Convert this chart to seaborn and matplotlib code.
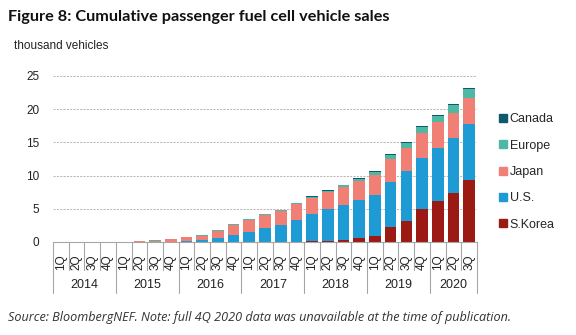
import numpy as np
import pandas as pd
import matplotlib
matplotlib.use("Agg")
import matplotlib.pyplot as plt
import matplotlib.transforms as mtransforms
from matplotlib.lines import Line2D
import seaborn as sns

# ---- data (thousand vehicles, cumulative) ----
years = ["2014", "2015", "2016", "2017", "2018", "2019", "2020"]
quarters = ["1Q", "2Q", "3Q", "4Q"] * 6 + ["1Q", "2Q", "3Q"]
year_of_bar = [y for y in years[:-1] for _ in range(4)] + ["2020"] * 3

s_korea = [0, 0, 0, 0, 0, 0, 0, 0, 0, 0.02, 0.03, 0.03, 0.03, 0.04, 0.05, 0.06,
           0.1, 0.2, 0.35, 0.6, 0.95, 2.2, 3.2, 4.9, 6.1, 7.4, 9.4]
us = [0, 0, 0, 0, 0, 0, 0.02, 0.05, 0.1, 0.23, 0.62, 1.02, 1.52, 2.06, 2.55, 3.24,
      4.1, 4.8, 5.25, 5.75, 6.15, 6.9, 7.5, 7.8, 8.1, 8.3, 8.4]
japan = [0, 0, 0, 0, 0.02, 0.1, 0.2, 0.33, 0.58, 0.7, 1.03, 1.5, 1.78, 1.95, 2.1, 2.4,
         2.5, 2.55, 2.7, 2.85, 3.0, 3.4, 3.5, 3.7, 3.8, 3.8, 3.9]
europe = [0, 0, 0, 0, 0.01, 0.04, 0.06, 0.05, 0.06, 0.07, 0.09, 0.1, 0.1, 0.12, 0.12, 0.15,
          0.15, 0.2, 0.25, 0.3, 0.45, 0.55, 0.7, 0.95, 1.0, 1.1, 1.3]
canada = [0, 0, 0, 0, 0.01, 0.02, 0.02, 0.03, 0.02, 0.03, 0.03, 0.05, 0.04, 0.03, 0.05, 0.05,
          0.05, 0.05, 0.07, 0.1, 0.15, 0.2, 0.16, 0.15, 0.2, 0.2, 0.2]

series_names = ["S.Korea", "U.S.", "Japan", "Europe", "Canada"]
colors = {"S.Korea": "#9B1B14", "U.S.": "#1E9AD4", "Japan": "#F07F76",
          "Europe": "#4DB8A4", "Canada": "#0E5A6C"}

periods = [f"{y} {q}" for y, q in zip(year_of_bar, quarters)]
df = pd.DataFrame({"period": periods, "S.Korea": s_korea, "U.S.": us,
                   "Japan": japan, "Europe": europe, "Canada": canada})
# cumulative stack tops
cum = df[series_names].cumsum(axis=1)
for name in series_names:
    df["top_" + name] = cum[name]

# ---- figure ----
sns.set_theme(style="white")
plt.rcParams["font.family"] = ["Liberation Sans", "DejaVu Sans"]

fig = plt.figure(figsize=(5.76, 3.35), dpi=100)
ax = fig.add_axes([53 / 576, 1 - 242 / 335, (477 - 53) / 576, 166 / 335])

for name in reversed(series_names):
    sns.barplot(data=df, x="period", y="top_" + name, order=periods,
                color=colors[name], saturation=1, width=0.74, errorbar=None,
                ax=ax, linewidth=0)

ax.set_ylim(0, 25)
ax.set_xlim(-0.5, len(periods) - 0.5)
ax.set_yticks([0, 5, 10, 15, 20, 25])
ax.set_yticklabels(["0", "5", "10", "15", "20", "25"], fontsize=8.5, color="#222222")
ax.tick_params(axis="y", length=0, pad=10)
ax.set_xticks([])
ax.set_xlabel("")
ax.set_ylabel("")
for y in [5, 10, 15, 20, 25]:
    ax.axhline(y, color="#AAAAAA", lw=0.6, ls=(0, (2.5, 1.5)), zorder=0)
ax.set_axisbelow(True)
for s in ["top", "right", "left"]:
    ax.spines[s].set_visible(False)
ax.spines["bottom"].set_color("#A6A6A6")
ax.spines["bottom"].set_linewidth(0.8)

# multi-level category axis
trans = mtransforms.blended_transform_factory(ax.transData, ax.transAxes)
n = len(periods)
year_bounds = [0, 4, 8, 12, 16, 20, 24, 27]
for i in range(n + 1):
    ylow = -0.307 if i in year_bounds else -0.169
    ax.add_line(Line2D([i - 0.5, i - 0.5], [0, ylow], transform=trans,
                       color="#A6A6A6", lw=0.8, clip_on=False))
for i, q in enumerate(quarters):
    ax.text(i, -0.12, q, transform=trans, rotation=90, ha="center", va="center",
            fontsize=8.5, color="#222222")
for k, yr in enumerate(years):
    a, b = year_bounds[k], year_bounds[k + 1]
    ax.text((a + b - 1) / 2, -0.258, yr, transform=trans, ha="center", va="center",
            fontsize=9, color="#222222")

# legend
handles = [Line2D([], [], marker="s", ls="", markersize=5.5,
                  markerfacecolor=colors[nm], markeredgecolor=colors[nm])
           for nm in reversed(series_names)]
fig.legend(handles, list(reversed(series_names)), loc="center left",
           bbox_to_anchor=(493 / 576, 1 - 172 / 335), frameon=False,
           fontsize=9, labelspacing=1.15, handlelength=0.6, handletextpad=0.25,
           borderpad=0)

# texts
fig.text(8 / 576, 1 - 17 / 335, "Figure 8: Cumulative passenger fuel cell vehicle sales",
         fontsize=11.7, fontweight="bold", family=["Lato", "DejaVu Sans"],
         va="center", ha="left", color="#111111")
fig.text(14 / 576, 1 - 46 / 335, "thousand vehicles", fontsize=8.5, va="center",
         ha="left", color="#222222")
fig.text(8 / 576, 1 - 318 / 335,
         "Source: BloombergNEF. Note: full 4Q 2020 data was unavailable at the time of publication.",
         fontsize=9.1, style="italic", va="center", ha="left", color="#333333",
         family=["Open Sans", "DejaVu Sans"])

fig.savefig("out.png", dpi=100)
